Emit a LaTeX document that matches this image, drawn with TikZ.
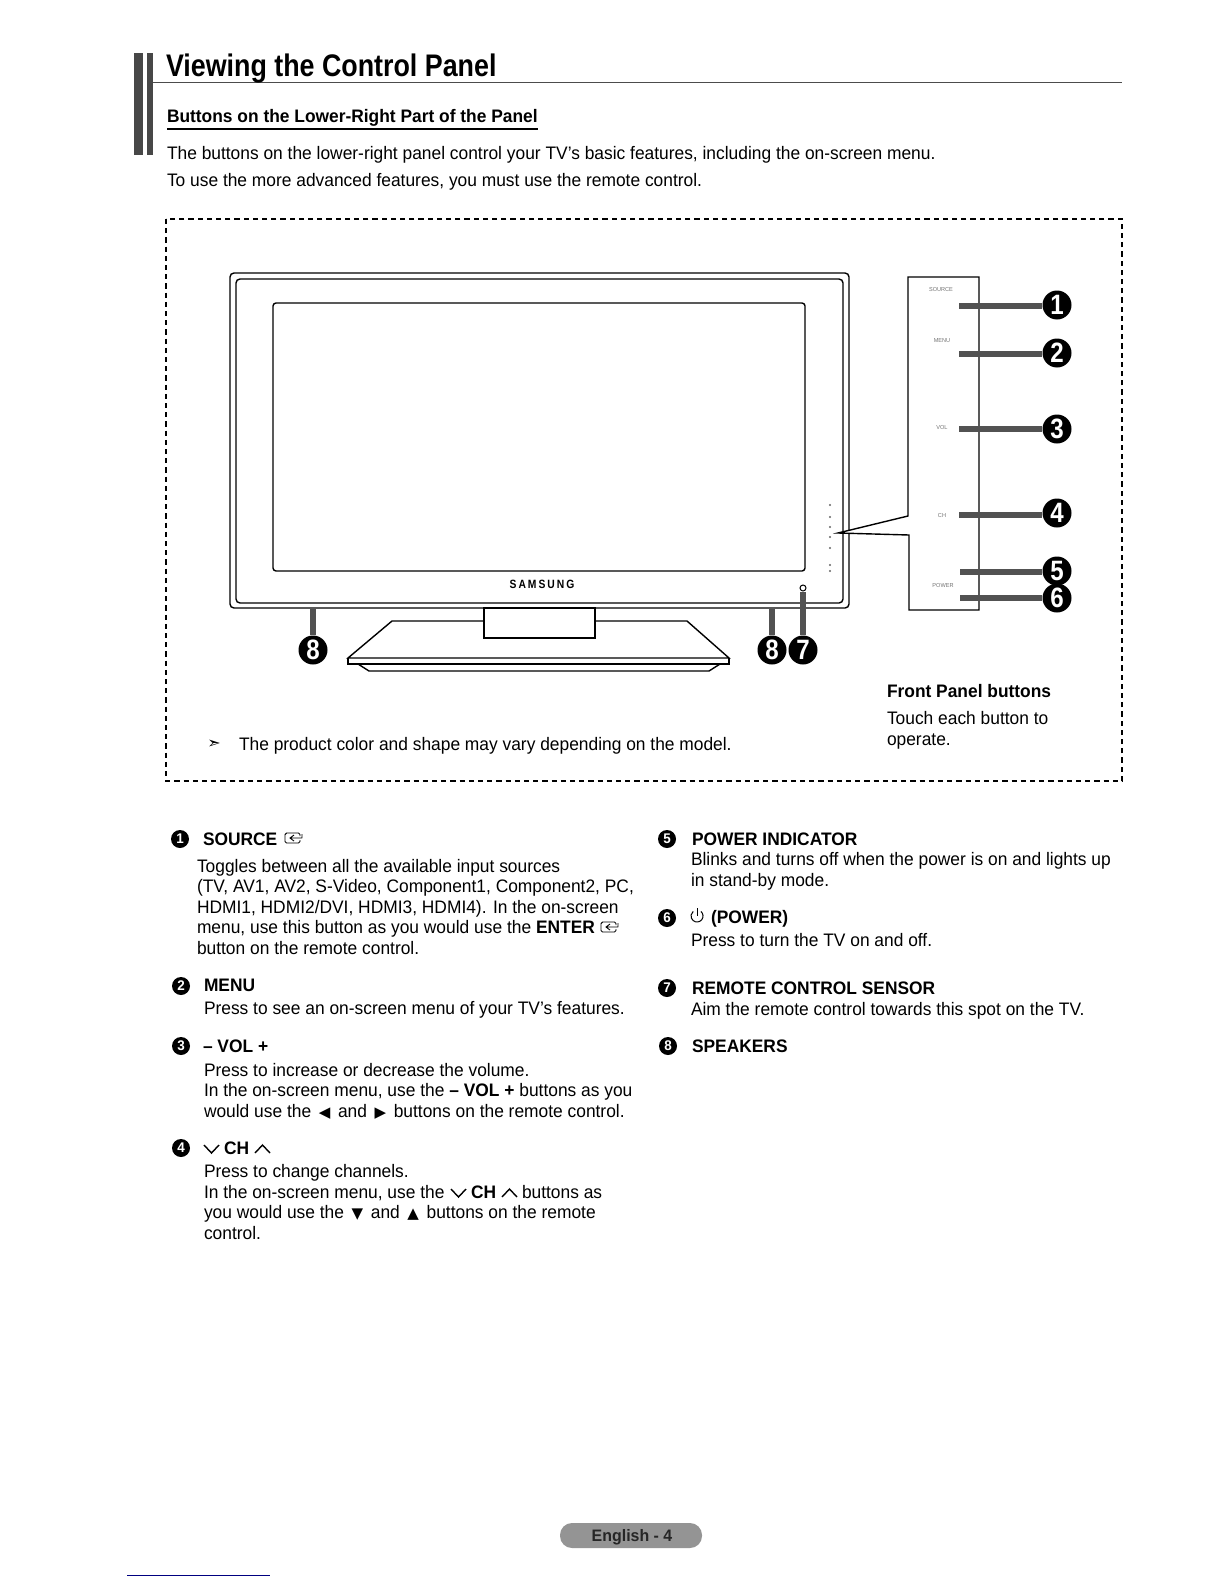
\documentclass[tikz,border=0pt]{standalone}
\usepackage{fontspec}
\setmainfont{Liberation Sans}[FakeStretch=0.96]
\newfontfamily\djv{DejaVu Sans}
\newfontfamily\condb[FakeStretch=0.86]{Liberation Sans Bold}
\newcommand{\bodysize}{\fontsize{9.05}{12}\selectfont}
\newcommand{\sy}[1]{\hspace{1.4pt}{\djv\fontsize{7.5}{9}\selectfont #1}\hspace{1.4pt}}
\newcommand{\srcicon}[2]{%
  \draw[line width=0.45pt,rounded corners=0.8pt] (#1+15,#2+3) -- (#1+15,#2) -- (#1,#2) -- (#1,#2+10) -- (#1+15,#2+10) -- (#1+15,#2+7);
  \draw[line width=0.45pt] (#1+5,#2+5) -- (#1+17,#2+5) (#1+9,#2+2) -- (#1+5,#2+5) -- (#1+9,#2+8) (#1+17,#2+5) -- (#1+17,#2+1);}
\newcommand{\chevdown}[2]{\draw[line width=0.7pt] (#1,#2) -- (#1+7.5,#2+8) -- (#1+15,#2);}
\newcommand{\chevup}[2]{\draw[line width=0.7pt] (#1,#2+8) -- (#1+7.5,#2) -- (#1+15,#2+8);}
\tikzset{
  txt/.style={anchor=base west,inner sep=0pt,outer sep=0pt,font=\bodysize},
  hd/.style={txt,font=\bodysize\bfseries},
  bigdot/.style={circle,fill=black,inner sep=0pt,minimum size=14.5pt,text=white,font=\condb\fontsize{14}{14}\selectfont},
  smalldot/.style={circle,fill=black,inner sep=0pt,minimum size=9pt,text=white,font=\bfseries\fontsize{7}{7}\selectfont},
  lead/.style={line width=2.6pt,draw=black!68},
  tvline/.style={line width=0.7pt,draw=black},
  tinylab/.style={inner sep=0pt,text=black!55,font=\fontsize{2.9}{3}\selectfont}
}
\begin{document}
\begin{tikzpicture}[x=0.5pt,y=-0.5pt,line join=miter]
\useasboundingbox (0,0) rectangle (1224,1584);
\fill[white] (0,0) rectangle (1224,1584);
% side bars and rules
\fill[black!72] (134,53) rectangle (143,155);
\fill[black!72] (147,53) rectangle (153,155);
\draw[line width=0.5pt,black!70] (153,83) -- (1122,83);
\node[txt,font=\condb\fontsize{15.6}{18}\selectfont] (title) at (166,76) {Viewing the Control Panel};
\node[hd] (sub) at (167,123) {Buttons on the Lower-Right Part of the Panel};
\draw[line width=0.8pt] (167,129) -- (538,129);
\node[txt] (p1) at (167,159) {The buttons on the lower-right panel control your TV’s basic features, including the on-screen menu.};
\node[txt] (p2) at (167,186) {To use the more advanced features, you must use the remote control.};
% dashed frame
\draw[line width=0.65pt,dash pattern=on 2.6pt off 2pt] (166,219) rectangle (1122,781);
% TV
\draw[tvline,rounded corners=2pt] (230,273) rectangle (849,608);
\draw[tvline,rounded corners=2pt] (236,279) rectangle (843,603);
\draw[tvline,rounded corners=1.5pt] (273,303) rectangle (805,571);
\node[inner sep=0pt,font=\condb\fontsize{6}{6}\selectfont] (logo) at (542,584) {S\,A\,M\,S\,U\,N\,G};
\draw[tvline,fill=white] (484,608) rectangle (595,638);
\draw[tvline] (484,621) -- (392,621) -- (348,658) -- (729,658) -- (687,621) -- (595,621);
\draw[tvline] (348,658) -- (348,664) -- (729,664) -- (729,658);
\draw[tvline] (358,664) -- (369,671) -- (709,671) -- (720,664);
\draw[line width=0.5pt] (803,588) circle[radius=3];
\foreach \yy in {505,517,527,537,548,565,571}{\fill[black!60] (830,\yy) circle[radius=1.2];}
% button panel
\draw[tvline,fill=white] (908,277) -- (908,516) -- (838,533) -- (909,535) -- (909,610) -- (979,610) -- (979,277) -- cycle;
\node[tinylab] (ls) at (941,290) {SOURCE};
\node[tinylab] (lm) at (942,341) {MENU};
\node[tinylab] (lv) at (942,427) {VOL};
\node[tinylab] (lc) at (942,515) {CH};
\node[tinylab] (lp) at (943,585) {POWER};
% numbered markers
\node[bigdot] (n1) at (1057,305) {1};
\node[bigdot] (n2) at (1057,353) {2};
\node[bigdot] (n3) at (1057,429) {3};
\node[bigdot] (n4) at (1057,513) {4};
\node[bigdot] (n5) at (1057,571) {5};
\node[bigdot] (n6) at (1057,598) {6};
\node[bigdot] (n7) at (803,650) {7};
\node[bigdot] (n8a) at (313,650) {8};
\node[bigdot] (n8b) at (772,650) {8};
\coordinate (s1) at (959,306);
\coordinate (s2) at (959,354);
\coordinate (s3) at (959,429);
\coordinate (s4) at (959,515);
\coordinate (s5) at (960,572);
\coordinate (s6) at (960,598);
\coordinate (s7) at (803,592);
\coordinate (s8a) at (313,609);
\coordinate (s8b) at (772,609);
\draw[lead] (s1) -- (n1.west|-s1);
\draw[lead] (s2) -- (n2.west|-s2);
\draw[lead] (s3) -- (n3.west|-s3);
\draw[lead] (s4) -- (n4.west|-s4);
\draw[lead] (s5) -- (n5.west|-s5);
\draw[lead] (s6) -- (n6.west|-s6);
\draw[lead] (s7) -- (n7);
\draw[lead] (s8a) -- (n8a);
\draw[lead] (s8b) -- (n8b);
% captions in frame
\node[inner sep=0pt,font=\djv\fontsize{8}{8}\selectfont] (arrowsym) at (214,744) {➣};
\node[txt] (note) at (239,750) {The product color and shape may vary depending on the model.};
\node[hd] (fp) at (887,697) {Front Panel buttons};
\node[txt] (fp1) at (887,724) {Touch each button to};
\node[txt] (fp2) at (887,745) {operate.};
% left column
\node[smalldot] (b1) at (180,839) {1};
\node[hd] (h1) at (203,845) {SOURCE};
\srcicon{285}{833}
\node[txt] (t11) at (197,872) {Toggles between all the available input sources};
\node[txt] (t12) at (197,892) {(TV, AV1, AV2, S-Video, Component1, Component2, PC,};
\node[txt] (t13) at (197,913) {HDMI1, HDMI2/DVI, HDMI3, HDMI4). In the on-screen};
\node[txt] (t14) at (197,933) {menu, use this button as you would use the \textbf{ENTER}};
\srcicon{601}{922}
\node[txt] (t15) at (197,954) {button on the remote control.};
\node[smalldot] (b2) at (181,986) {2};
\node[hd] (h2) at (204,991) {MENU};
\node[txt] (t21) at (204,1014) {Press to see an on-screen menu of your TV’s features.};
\node[smalldot] (b3) at (181,1046) {3};
\node[hd] (h3) at (203,1052) {– VOL +};
\node[txt] (t31) at (204,1076) {Press to increase or decrease the volume.};
\node[txt] (t32) at (204,1096) {In the on-screen menu, use the \textbf{– VOL +} buttons as you};
\node[txt] (t33) at (204,1117) {would use the \sy{◀} and \sy{▶} buttons on the remote control.};
\node[smalldot] (b4) at (181,1148) {4};
\chevdown{204}{1145}
\node[hd] (h4) at (224,1154) {CH};
\chevup{255}{1145}
\node[txt] (t41) at (204,1177) {Press to change channels.};
\node[txt] (t42) at (204,1198) {In the on-screen menu, use the};
\chevdown{451}{1189}
\node[hd] (t42b) at (471,1198) {CH};
\chevup{502}{1189}
\node[txt] (t42c) at (522,1198) {buttons as};
\node[txt] (t43) at (204,1218) {you would use the \sy{▼} and \sy{▲} buttons on the remote};
\node[txt] (t44) at (204,1239) {control.};
% right column
\node[smalldot] (b5) at (667,839) {5};
\node[hd] (h5) at (692,845) {POWER INDICATOR};
\node[txt] (t51) at (691,865) {Blinks and turns off when the power is on and lights up};
\node[txt] (t52) at (691,886) {in stand-by mode.};
\node[smalldot] (b6) at (667,918) {6};
\draw[line width=0.5pt] (700.9,911.4) arc[start angle=-50,end angle=230,radius=6];
\draw[line width=0.5pt] (697,908) -- (697,916);
\node[hd] (h6) at (711,923) {(POWER)};
\node[txt] (t61) at (691,946) {Press to turn the TV on and off.};
\node[smalldot] (b7) at (667,988) {7};
\node[hd] (h7) at (692,994) {REMOTE CONTROL SENSOR};
\node[txt] (t71) at (691,1015) {Aim the remote control towards this spot on the TV.};
\node[smalldot] (b8) at (668,1046) {8};
\node[hd] (h8) at (692,1052) {SPEAKERS};
% footer
\fill[black!42,rounded corners=6pt] (560,1523) rectangle (702,1548);
\node[inner sep=0pt,text=black!85,font=\fontsize{8.3}{10}\selectfont\bfseries] (foot) at (632,1537) {English - 4};
\draw[line width=0.5pt,blue!50!black] (127,1575) -- (270,1575);
\end{tikzpicture}
\end{document}
